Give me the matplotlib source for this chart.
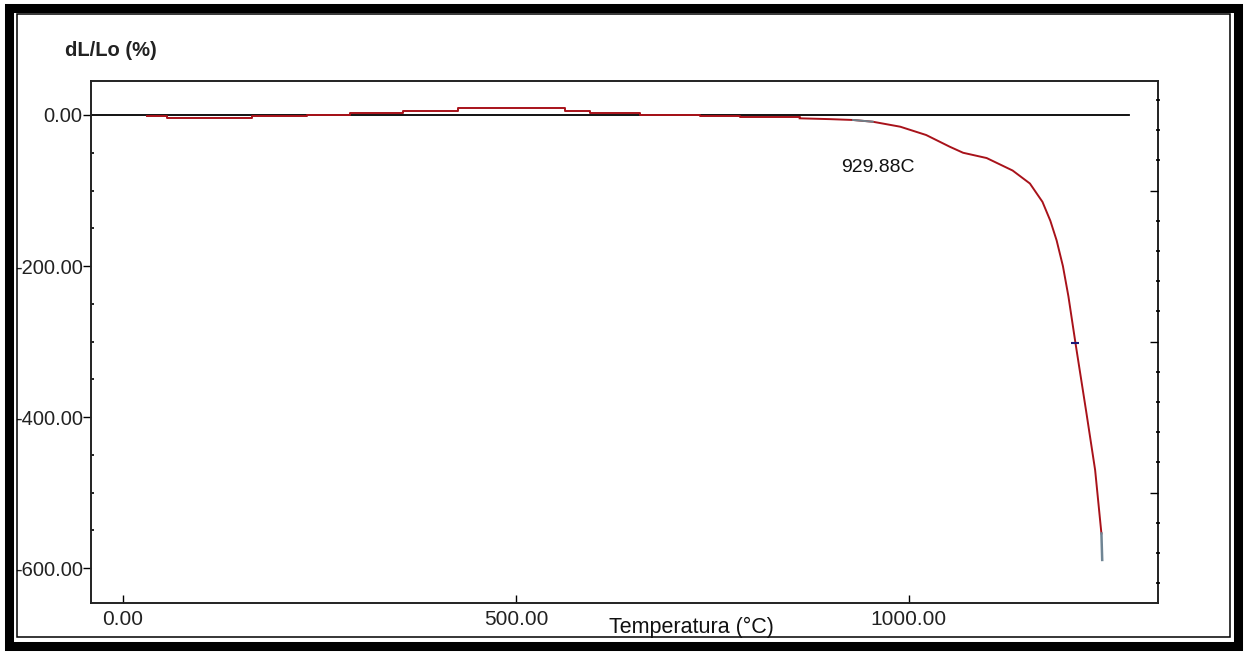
import matplotlib
matplotlib.use("Agg")
import matplotlib.pyplot as plt
from matplotlib.patches import Rectangle
from matplotlib.ticker import FixedLocator, MultipleLocator

plt.rcParams['font.family'] = ['Liberation Sans', 'DejaVu Sans']

# ---- data ----
T_low = [30, 56, 164, 234, 289, 356, 426, 562, 594, 658, 734, 785, 861]
dL_low = [-1, -3.5, -1, 0, 2.5, 5, 9, 5, 2, 0, -1, -3, -4.4]

T_high = [861, 900, 929, 954, 989, 1022, 1052, 1069, 1099, 1132, 1154, 1170,
          1180, 1188, 1196, 1203, 1212, 1226, 1237, 1245]
dL_high = [-4.4, -5.5, -6.6, -8.9, -15.5, -26.5, -42, -50, -57, -73.5, -90.7,
           -115, -140, -166, -200, -240, -302, -395, -470, -554]

T_mark = [929, 954]
dL_mark = [-6.6, -8.9]

T_end = [1245, 1246]
dL_end = [-554, -589]

marker_T = 1212
marker_dL = -302

annot_text = "929.88C"
annot_T, annot_dL = 960, -69

x_ticks = [0, 500, 1000]
x_ticklabels = ["0.00", "500.00", "1000.00"]
y_ticks = [0, -200, -400, -600]
y_ticklabels = ["0.00", "-200.00", "-400.00", "-600.00"]
right_major = [-100, -300, -500]

W, H = 1244, 658
fig = plt.figure(figsize=(W / 100, H / 100), dpi=100)

def px(x0, y0, x1, y1):
    return [x0 / W, 1 - y1 / H, (x1 - x0) / W, (y1 - y0) / H]

ax = fig.add_axes(px(91, 81, 1158, 603))
ax.set_xlim(-40.7, 1317)
ax.set_ylim(-646, 45)

red = '#a8121a'
ax.axhline(0, xmin=0, xmax=(1280 + 40.7) / (1317 + 40.7), color='black', lw=1.3, zorder=2)
ax.plot(T_low, dL_low, drawstyle='steps-post', color=red, lw=1.4, zorder=3)
ax.plot(T_high, dL_high, color=red, lw=1.4, zorder=3)
ax.plot(T_mark, dL_mark, color='#6f7f88', lw=1.4, zorder=4)
ax.plot(T_end, dL_end, color='#6f8594', lw=1.8, zorder=4)
ax.plot([marker_T], [marker_dL], marker='_', ms=6, mew=1.5, color='#1a1a7a', zorder=5)

ax.text(annot_T, annot_dL, annot_text, fontsize=14, ha='center', va='center', color='#111111')

for s in ax.spines.values():
    s.set_linewidth(1.4)
    s.set_color('#222222')

ax.set_xticks(x_ticks)
ax.set_xticklabels(x_ticklabels)
ax.set_yticks(y_ticks)
ax.set_yticklabels(y_ticklabels)
ax.yaxis.set_minor_locator(MultipleLocator(50))
ax.tick_params(axis='x', direction='in', length=6, width=1, pad=5, labelsize=15, top=False)
ax.tick_params(axis='y', which='major', direction='out', length=6, width=1, pad=0, labelsize=14.5)
ax.tick_params(axis='y', which='minor', direction='in', length=2.5, width=1.2)
for lab in ax.get_xticklabels() + ax.get_yticklabels():
    lab.set_color('#222222')

# right-side unlabeled ticks
axr = ax.twinx()
axr.set_ylim(ax.get_ylim())
axr.yaxis.set_major_locator(FixedLocator(right_major))
axr.yaxis.set_minor_locator(FixedLocator([v for v in range(20, -640, -40)]))
axr.set_yticklabels([])
axr.tick_params(axis='y', which='major', direction='in', length=6, width=1)
axr.tick_params(axis='y', which='minor', direction='inout', length=3, width=1.2)
for s in axr.spines.values():
    s.set_visible(False)

# axis titles
fig.text(65 / W, 1 - 50 / H, "dL/Lo (%)", fontsize=14.5, fontweight='bold',
         color='#222222', ha='left', va='center')
fig.text(691 / W, 1 - 627 / H, "Temperatura (°C)", fontsize=15.5,
         color='#111111', ha='center', va='center')

# frame around the figure
fig.add_artist(Rectangle((8.5 / W, 1 - 646 / H), (1238 - 8.5) / W, (646 - 8) / H,
                         transform=fig.transFigure, fill=False, ec='black', lw=6.5))
fig.add_artist(Rectangle((17 / W, 1 - 637 / H), (1230 - 17) / W, (637 - 14) / H,
                         transform=fig.transFigure, fill=False, ec='black', lw=1.1))

fig.savefig("out.png", dpi=100)
